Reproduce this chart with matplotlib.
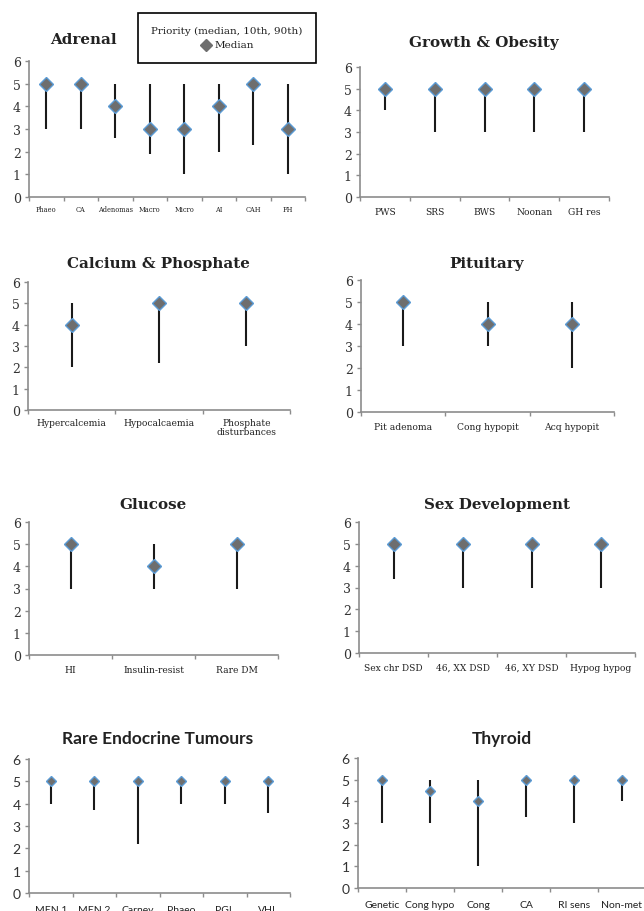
import matplotlib
matplotlib.use("Agg")
import matplotlib.pyplot as plt
from matplotlib.lines import Line2D
from matplotlib.patches import Rectangle

W, H = 644, 912

# ---- data: (median, 10th, 90th) per category ----
adrenal_cats = ['Phaeo', 'CA', 'Adenomas', 'Macro', 'Micro', 'AI', 'CAH', 'FH']
adrenal_med = [5, 5, 4, 3, 3, 4, 5, 3]
adrenal_lo = [3, 3, 2.6, 1.9, 1, 2, 2.3, 1]
adrenal_hi = [5, 5, 5, 5, 5, 5, 5, 5]

growth_cats = ['PWS', 'SRS', 'BWS', 'Noonan', 'GH res']
growth_med = [5, 5, 5, 5, 5]
growth_lo = [4, 3, 3, 3, 3]
growth_hi = [5, 5, 5, 5, 5]

calcium_cats = ['Hypercalcemia', 'Hypocalcaemia', 'Phosphate\ndisturbances']
calcium_med = [4, 5, 5]
calcium_lo = [2, 2.2, 3]
calcium_hi = [5, 5, 5]

pituitary_cats = ['Pit adenoma', 'Cong hypopit', 'Acq hypopit']
pituitary_med = [5, 4, 4]
pituitary_lo = [3, 3, 2]
pituitary_hi = [5, 5, 5]

glucose_cats = ['HI', 'Insulin-resist', 'Rare DM']
glucose_med = [5, 4, 5]
glucose_lo = [3, 3, 3]
glucose_hi = [5, 5, 5]

sexdev_cats = ['Sex chr DSD', '46, XX DSD', '46, XY DSD', 'Hypog hypog']
sexdev_med = [5, 5, 5, 5]
sexdev_lo = [3.4, 3, 3, 3]
sexdev_hi = [5, 5, 5, 5]

tumour_cats = ['MEN 1', 'MEN 2', 'Carney', 'Phaeo', 'PGL', 'VHL']
tumour_med = [5, 5, 5, 5, 5, 5]
tumour_lo = [4, 3.7, 2.2, 4, 4, 3.6]
tumour_hi = [5, 5, 5, 5, 5, 5]

thyroid_cats = ['Genetic', 'Cong hypo', 'Cong', 'CA', 'RI sens', 'Non-met']
thyroid_med = [5, 4.5, 4, 5, 5, 5]
thyroid_lo = [3, 3, 1, 3.3, 3, 4]
thyroid_hi = [5, 5, 5, 5, 5, 5]

SERIF = 'DejaVu Serif'
SANS = 'Lato'
AXCOL = '#8c8c8c'

fig = plt.figure(figsize=(W / 100, H / 100), dpi=100)
fig.patch.set_facecolor('white')


# x0, x1: pixel left/right of x axis; ytop, ybot: pixel of value 6 and 0
def panel(x0, x1, ytop, ybot, title, tx, ty, cats, med, lo, hi,
          font=SERIF, xfs=6.6, ms=7.5, tfs=10.9, yfs=9, xpad=7):
    ax = fig.add_axes([x0 / W, 1 - ybot / H, (x1 - x0) / W, (ybot - ytop) / H])
    n = len(cats)
    pos = [i + 0.5 for i in range(n)]
    ax.vlines(pos, lo, hi, color='#1a1a1a', lw=1.5, zorder=2)
    ax.plot(pos, med, ls='none', marker='D', ms=ms, mfc='#6e6e6e',
            mec='#5b9bd5', mew=1.0, zorder=3)
    ax.set_xlim(0, n)
    ax.set_ylim(0, 6)
    ax.set_yticks(range(7))
    ax.set_xticks(pos)
    ax.set_xticklabels(cats, fontsize=xfs, family=font, color='#222222',
                       linespacing=1.0)
    ax.set_xticks(range(n + 1), minor=True)
    ax.tick_params(axis='x', which='major', length=0, pad=xpad)
    ax.tick_params(axis='x', which='minor', length=3, color=AXCOL, width=1)
    ax.tick_params(axis='y', length=3, color=AXCOL, width=1, pad=3,
                   labelsize=yfs, labelcolor='#333333')
    for lab in ax.get_yticklabels():
        lab.set_family(font)
    for s in ['top', 'right']:
        ax.spines[s].set_visible(False)
    for s in ['left', 'bottom']:
        ax.spines[s].set_color(AXCOL)
        ax.spines[s].set_linewidth(1.2)
    ax.patch.set_alpha(0)
    fig.text(tx / W, 1 - ty / H, title, ha='center', va='center',
             fontsize=tfs, fontweight='bold', family=font, color='#222222')
    return ax


panel(29, 305, 62, 198, 'Adrenal', 83, 40, adrenal_cats, adrenal_med,
      adrenal_lo, adrenal_hi, xfs=4.8, xpad=6)
panel(360, 609, 68, 198, 'Growth & Obesity', 484, 43, growth_cats,
      growth_med, growth_lo, growth_hi)
panel(28, 290, 283, 411, 'Calcium & Phosphate', 158, 264, calcium_cats,
      calcium_med, calcium_lo, calcium_hi, xpad=6)
panel(361, 614, 281, 413, 'Pituitary', 487, 264, pituitary_cats,
      pituitary_med, pituitary_lo, pituitary_hi)
panel(29, 278, 523, 656, 'Glucose', 153, 505, glucose_cats, glucose_med,
      glucose_lo, glucose_hi)
panel(359, 635, 523, 654, 'Sex Development', 497, 505, sexdev_cats,
      sexdev_med, sexdev_lo, sexdev_hi)
panel(29, 290, 760, 894, 'Rare Endocrine Tumours', 158, 739, tumour_cats,
      tumour_med, tumour_lo, tumour_hi, font=SANS, xfs=7.5, ms=5.5,
      tfs=12.5, yfs=10, xpad=9)
panel(358, 646, 759, 889, 'Thyroid', 502, 739, thyroid_cats, thyroid_med,
      thyroid_lo, thyroid_hi, font=SANS, xfs=7.5, ms=5.5, tfs=12.5, yfs=10,
      xpad=9)

# legend box (top of Adrenal panel)
fig.add_artist(Rectangle((138 / W, 1 - 64 / H), 178 / W, 50 / H,
                         transform=fig.transFigure, fill=False,
                         edgecolor='black', lw=1.2))
fig.text(227 / W, 1 - 31 / H, 'Priority (median, 10th, 90th)', ha='center',
         va='center', fontsize=7.5, family=SERIF, color='#222222')
fig.add_artist(Line2D([206 / W], [1 - 46 / H], transform=fig.transFigure,
                      marker='D', ms=6, mfc='#6e6e6e', mec='#6e6e6e', ls='none'))
fig.text(215 / W, 1 - 46 / H, 'Median', ha='left', va='center', fontsize=7.5,
         family=SERIF, color='#222222')

fig.savefig('out.png', dpi=100)
